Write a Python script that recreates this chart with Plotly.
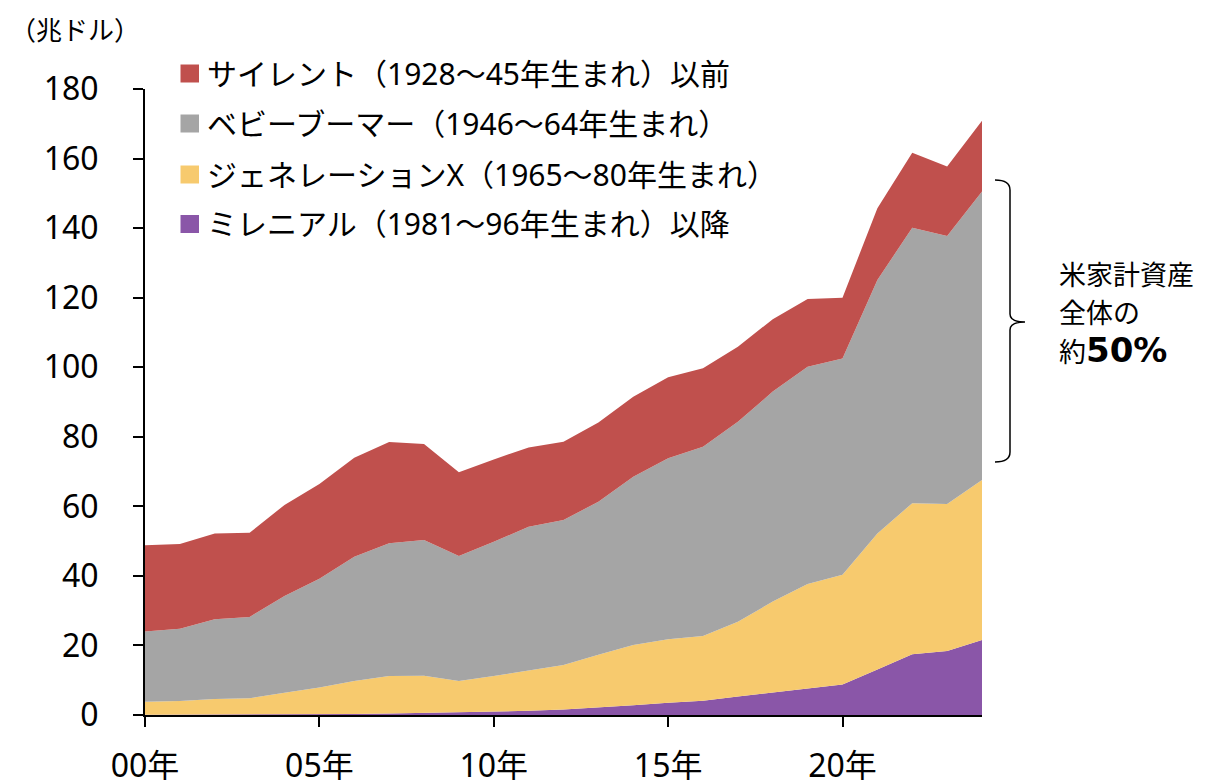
import plotly.graph_objects as go

years = list(range(2000, 2025))
millennial = [0.1,0.1,0.1,0.1,0.2,0.2,0.3,0.4,0.6,0.6,0.8,1.2,1.6,2.1,2.8,3.5,4.1,5.3,6.4,7.5,8.8,13.1,17.5,18.4,21.6]
genx = [3.7,3.9,4.5,4.7,6.2,7.7,9.5,10.8,10.7,9.2,10.4,11.7,12.8,15.2,17.3,18.3,18.6,21.5,26.2,30.2,31.5,39.1,43.4,42.3,46.0]
boomer = [20.2,20.8,22.9,23.4,27.8,31.3,35.7,38.2,39.0,35.9,38.6,41.2,41.7,44.0,48.4,52.0,54.4,57.5,60.4,62.4,62.2,72.9,79.2,77.0,82.9]
silent = [24.8,24.4,24.7,24.2,26.2,27.2,28.5,29.1,27.6,24.1,23.7,22.8,22.5,22.8,23.0,23.3,22.6,21.6,20.8,19.5,17.5,20.6,21.6,20.0,20.4]

series_names = [
    "サイレント（1928～45年生まれ）以前",
    "ベビーブーマー（1946～64年生まれ）",
    "ジェネレーションX（1965～80年生まれ）",
    "ミレニアル（1981～96年生まれ）以降",
]
colors = ["#C0504D", "#A5A5A5", "#F7CA6E", "#8A56A8"]

x_tickvals = [2000, 2005, 2010, 2015, 2020]
x_ticktext = ["00年", "05年", "10年", "15年", "20年"]
y_tickvals = list(range(0, 181, 20))

unit_label = "（兆ドル）"
note_lines = ["米家計資産", "全体の", "約"]
note_bold = "50%"

FONT = "Noto Sans, Noto Sans CJK JP, sans-serif"
OFF = 8  # page body margin
W, H = 1207 - OFF, 780 - OFF
# plot area in screenshot pixels
SL, SR, ST, SB = 145, 982, 89, 715
L, T = SL - OFF, ST - OFF
R, B = W - (SR - OFF), H - (SB - OFF)
PW, PH = SR - SL, SB - ST

def px(x):
    return (x - SL) / PW

def py(y):
    return (SB - y) / PH

fig = go.Figure()
stack = [(millennial, 3), (genx, 2), (boomer, 1), (silent, 0)]
for vals, i in stack:
    fig.add_trace(go.Scatter(
        x=years, y=vals, mode="lines", stackgroup="one",
        line=dict(width=0, color=colors[i]), fillcolor=colors[i],
        name=series_names[i], showlegend=False, hoverinfo="skip",
    ))

shapes = []
annotations = []
# manual legend
row_y = [73.5, 123.5, 174.5, 224]
for i, name in enumerate(series_names):
    cy = row_y[i]
    shapes.append(dict(type="rect", xref="paper", yref="paper",
                       x0=px(180.5), x1=px(199), y0=py(cy + 9), y1=py(cy - 9),
                       fillcolor=colors[i], line=dict(width=0)))
    annotations.append(dict(xref="paper", yref="paper", x=px(205), y=py(cy),
                            text=name, showarrow=False, xanchor="left", yanchor="middle",
                            font=dict(family=FONT, size=30, color="#000")))

# unit label
annotations.append(dict(xref="paper", yref="paper", x=px(8), y=py(30),
                        text=unit_label, showarrow=False, xanchor="left", yanchor="middle",
                        font=dict(family=FONT, size=26, color="#000")))

# brace
top, mid, bot = 180, 322, 462
xa, xb, xc = 995, 1010, 1025
path = (f"M {px(xa)},{py(top)} Q {px(xb)},{py(top)} {px(xb)},{py(top+10)} "
        f"L {px(xb)},{py(mid-8)} Q {px(xb)},{py(mid)} {px(xc)},{py(mid)} "
        f"Q {px(xb)},{py(mid)} {px(xb)},{py(mid+8)} "
        f"L {px(xb)},{py(bot-10)} Q {px(xb)},{py(bot)} {px(xa)},{py(bot)}")
shapes.append(dict(type="path", xref="paper", yref="paper", path=path,
                   line=dict(color="#000", width=1.5)))

note_y = [274, 312, 350]
for k, (t, yy) in enumerate(zip(note_lines, note_y)):
    if k == 2:
        t = t + f"<b><span style='font-size:34px;font-family:DejaVu Sans'>{note_bold}</span></b>"
    annotations.append(dict(xref="paper", yref="paper", x=px(1057), y=py(yy),
                            text=t, showarrow=False, xanchor="left", yanchor="middle",
                            font=dict(family=FONT, size=27, color="#000")))

fig.update_layout(
    width=W, height=H,
    margin=dict(l=L, r=R, t=T, b=B, autoexpand=False),
    plot_bgcolor="white", paper_bgcolor="white",
    showlegend=False,
    font=dict(family=FONT, color="#000"),
    shapes=shapes, annotations=annotations,
    xaxis=dict(range=[2000, 2024], tickvals=x_tickvals, ticktext=x_ticktext,
               showgrid=False, zeroline=False, showline=True, linecolor="#000", linewidth=2,
               ticks="outside", ticklen=10, tickwidth=2, tickcolor="#000",
               ticklabelstandoff=12,
               tickfont=dict(family=FONT, size=32, color="#000")),
    yaxis=dict(range=[0, 180], tickvals=y_tickvals,
               showgrid=False, zeroline=False, showline=True, linecolor="#000", linewidth=2,
               ticks="outside", ticklen=10, tickwidth=2, tickcolor="#000",
               ticklabelstandoff=28,
               tickfont=dict(family=FONT, size=32, color="#000")),
)

fig.write_html("out.html")
